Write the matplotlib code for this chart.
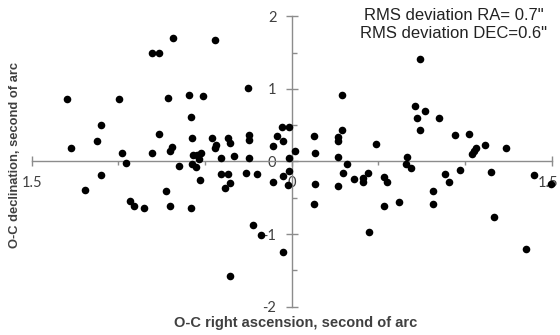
"""
O-C residual scatter: right ascension vs declination (seconds of arc)
"""

import matplotlib
matplotlib.use("Agg")
import matplotlib.pyplot as plt
import matplotlib.transforms as mtransforms
from matplotlib.ticker import MultipleLocator

# O-C residuals
RA_OC = [
    -0.687, -0.806, -0.763, -1.296, -0.996, -0.713, -0.594, -1.100, -0.579,
    -1.121, -0.763, -0.575, -1.275, -0.692, -0.700, -0.981, -0.806, -0.954,
    -0.650, -1.100, -1.190, -0.723, -0.931, -0.909, -0.854, -0.700, -0.581,
    -0.571, -0.548, -0.523, -0.533, -0.575, -0.552,
    -0.440, -0.511, -0.252, 0.289, -0.462, -0.436, -0.440, -0.369, -0.355,
    -0.244, -0.244, -0.055, -0.013, -0.087, -0.052, -0.110, 0.017, 0.127,
    0.135, 0.265, 0.269, 0.289, 0.268, -0.531, -0.406, -0.335, -0.244,
    -0.013, -0.406, -0.367, -0.355, -0.384, -0.263, -0.202, -0.110, -0.052,
    -0.013, -0.021, 0.135, 0.268, 0.320, 0.296, 0.360, 0.410, 0.414, 0.439,
    0.129, -0.223, -0.175, -0.052, -0.355, 0.448,
    0.739, 0.712, 0.768, 0.720, 0.850, 0.739, 0.943, 1.020, 0.487, 1.118,
    1.237, 1.064, 1.052, 1.039, 0.664, 0.660, 0.689, 0.535, 0.548, 0.887,
    0.908, 0.969, 1.147, 1.399, 1.497, 0.816, 0.816, 0.620, 0.535, 1.168,
    1.349,
]
DEC_OC = [
    1.70, 1.49, 1.50, 0.86, 0.86, 0.88, 0.92, 0.50, 0.61,
    0.28, 0.38, 0.33, 0.18, 0.20, 0.15, 0.11, 0.11, -0.02,
    -0.06, -0.19, -0.39, -0.41, -0.54, -0.61, -0.64, -0.61, -0.64,
    0.09, 0.09, 0.12, 0.04, -0.03, -0.07,
    1.67, 0.90, 1.01, 0.91, 0.33, 0.23, 0.19, 0.33, 0.25,
    0.36, 0.29, 0.48, 0.48, 0.35, 0.28, 0.21, 0.15, 0.35,
    0.12, 0.28, 0.34, 0.43, 0.06, -0.26, 0.05, 0.08, 0.05,
    0.05, -0.17, -0.17, -0.29, -0.37, -0.16, -0.17, -0.28, -0.20,
    -0.13, -0.32, -0.31, -0.34, -0.04, -0.16, -0.24, -0.28, -0.23, -0.16,
    -0.59, -0.88, -1.01, -1.24, -1.58, -0.97,
    1.41, 0.76, 0.70, 0.60, 0.60, 0.43, 0.36, 0.38, 0.24, 0.22,
    0.19, 0.18, 0.15, 0.10, 0.06, -0.04, -0.09, -0.21, -0.28, -0.17,
    -0.28, -0.12, -0.14, -0.19, -0.31, -0.41, -0.59, -0.56, -0.61, -0.76,
    -1.21,
]

X_TICKS = [-1.5, 0, 1.5]
X_TICK_LABELS = ["1.5", "0", "1.5"]
Y_TICKS = [-2, -1, 0, 1, 2]
Y_TICK_LABELS = ["-2", "-1", "0", "1", "2"]

RMS_RA = 0.7
RMS_DEC = 0.6

AXIS_GRAY = "#8c8c8c"
TEXT_GRAY = "#404040"


def draw_chart():
    fig = plt.figure(figsize=(5.6, 3.35), dpi=100)
    ax = fig.add_axes([0.0566, 0.0845, 0.9286, 0.867])

    ax.scatter(RA_OC, DEC_OC, s=30, c="black", linewidths=0, zorder=5, clip_on=False)

    ax.set_xlim(-1.5, 1.5)
    ax.set_ylim(-2, 2)

    # axes cross in the middle, Excel style
    for side in ("top", "right"):
        ax.spines[side].set_visible(False)
    ax.spines["left"].set_position(("data", 0))
    ax.spines["bottom"].set_position(("data", 0))
    for side in ("left", "bottom"):
        ax.spines[side].set_color(AXIS_GRAY)
        ax.spines[side].set_linewidth(1.0)

    ax.set_xticks(X_TICKS)
    ax.set_xticklabels(X_TICK_LABELS)
    ax.set_yticks(Y_TICKS)
    ax.set_yticklabels(Y_TICK_LABELS)
    ax.xaxis.set_minor_locator(MultipleLocator(0.5))
    ax.yaxis.set_minor_locator(MultipleLocator(0.5))

    ax.tick_params(axis="x", which="major", direction="inout", length=6.5,
                   width=1, color=AXIS_GRAY, pad=7.5, labelsize=10.5, labelcolor=TEXT_GRAY)
    ax.tick_params(axis="x", which="minor", direction="out", length=3,
                   width=1, color=AXIS_GRAY)
    ax.tick_params(axis="y", which="major", direction="inout", length=8,
                   width=1, color=AXIS_GRAY, pad=7, labelsize=10.5, labelcolor=TEXT_GRAY)
    ax.tick_params(axis="y", which="minor", direction="in", length=3.5,
                   width=1, color=AXIS_GRAY)
    for lbl in ax.get_xticklabels() + ax.get_yticklabels():
        lbl.set_family("Lato")

    # right-hand "1.5" sits against the edge; keep it inside the picture
    last = ax.get_xticklabels()[-1]
    last.set_horizontalalignment("right")
    last.set_transform(last.get_transform() +
                       mtransforms.ScaledTranslation(7 / 100, 0, fig.dpi_scale_trans))

    fig.text(296 / 560, 1 - 323 / 335, "O-C right ascension, second of arc",
             ha="center", va="center", fontsize=10.5, fontweight="bold",
             color=TEXT_GRAY, family="Liberation Sans")
    fig.text(15 / 560, 1 - 155 / 335, "O-C declination, second of arc",
             ha="center", va="center", rotation=90, fontsize=9.3,
             fontweight="bold", color=TEXT_GRAY, family="Liberation Sans")

    fig.text(454 / 560, 1 - 15 / 335, f'RMS deviation RA= {RMS_RA}"',
             ha="center", va="center", fontsize=12, color="#222222",
             family="Liberation Sans")
    fig.text(454 / 560, 1 - 33 / 335, f'RMS deviation DEC={RMS_DEC}"',
             ha="center", va="center", fontsize=12, color="#222222",
             family="Liberation Sans")

    fig.savefig("out.png", dpi=100)


def main():
    draw_chart()


if __name__ == "__main__":
    main()
